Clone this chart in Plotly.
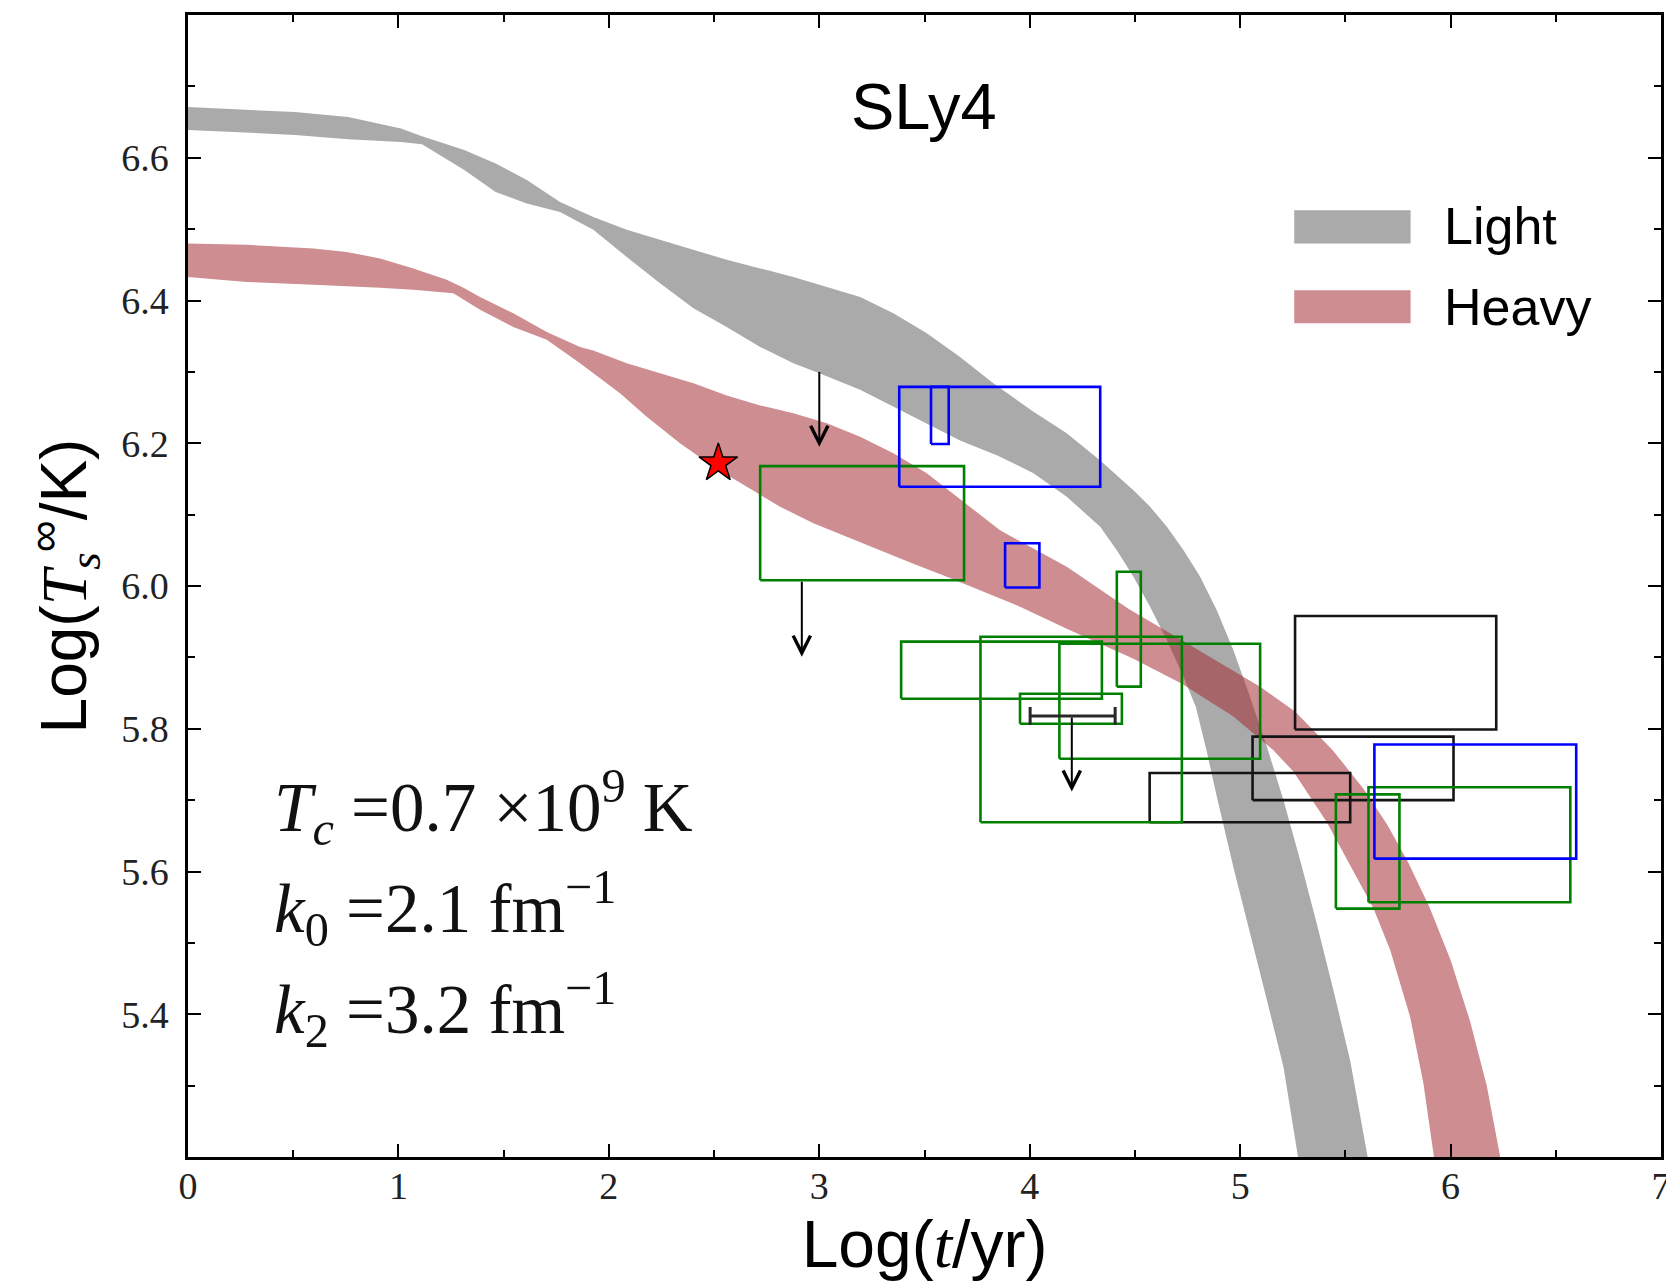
import plotly.graph_objects as go

# ---------------- data ----------------
light_upper_x = [0.0, 0.509, 0.761, 1.012, 1.112, 1.313, 1.462, 1.610, 1.768, 1.926, 2.085, 2.243, 2.402,
                 2.560, 2.719, 2.877, 3.036, 3.194, 3.352, 3.511, 3.669, 3.827, 4.018, 4.176, 4.335, 4.493,
                 4.572, 4.652, 4.731, 4.810, 4.889, 4.968, 5.047, 5.127, 5.206, 5.285, 5.364, 5.444, 5.523, 5.606]
light_upper_y = [6.671, 6.664, 6.657, 6.641, 6.630, 6.611, 6.592, 6.569, 6.538, 6.517, 6.499, 6.485, 6.471,
                 6.457, 6.445, 6.433, 6.419, 6.405, 6.382, 6.354, 6.321, 6.284, 6.244, 6.214, 6.176, 6.134,
                 6.111, 6.083, 6.050, 6.013, 5.966, 5.910, 5.845, 5.775, 5.700, 5.616, 5.527, 5.433, 5.335, 5.200]
light_lower_x = [0.0, 0.509, 0.761, 1.012, 1.112, 1.313, 1.462, 1.610, 1.768, 1.926, 2.085, 2.243, 2.402,
                 2.560, 2.719, 2.877, 3.000, 3.194, 3.352, 3.511, 3.669, 3.846, 4.018, 4.176, 4.335, 4.414,
                 4.493, 4.572, 4.652, 4.731, 4.790, 4.840, 4.889, 4.968, 5.048, 5.127, 5.206, 5.275]
light_lower_y = [6.639, 6.632, 6.626, 6.622, 6.619, 6.583, 6.552, 6.536, 6.524, 6.499, 6.461, 6.424, 6.389,
                 6.363, 6.335, 6.312, 6.298, 6.275, 6.251, 6.228, 6.204, 6.183, 6.158, 6.125, 6.083, 6.050,
                 6.013, 5.971, 5.924, 5.873, 5.830, 5.770, 5.705, 5.606, 5.513, 5.420, 5.326, 5.200]

heavy_upper_x = [0.0, 0.279, 0.596, 0.754, 0.913, 1.071, 1.229, 1.309, 1.388, 1.546, 1.705, 1.863, 1.926,
                 2.085, 2.243, 2.402, 2.560, 2.719, 2.877, 3.036, 3.194, 3.352, 3.511, 3.680, 3.859, 4.176,
                 4.469, 4.723, 5.095, 5.261, 5.440, 5.586, 5.700, 5.800, 5.900, 6.000, 6.093, 6.172, 6.236]
heavy_upper_y = [6.480, 6.478, 6.473, 6.468, 6.459, 6.445, 6.429, 6.418, 6.405, 6.382, 6.356, 6.335, 6.330,
                 6.312, 6.298, 6.284, 6.267, 6.253, 6.242, 6.228, 6.209, 6.186, 6.158, 6.119, 6.078, 6.027,
                 5.968, 5.924, 5.859, 5.824, 5.770, 5.716, 5.665, 5.612, 5.550, 5.476, 5.390, 5.300, 5.200]
heavy_lower_x = [0.0, 0.279, 0.596, 0.913, 1.071, 1.261, 1.388, 1.546, 1.705, 1.863, 2.053, 2.180, 2.338,
                 2.497, 2.655, 2.814, 2.972, 3.131, 3.289, 3.447, 3.606, 3.764, 3.954, 4.176, 4.493, 4.723,
                 4.968, 5.158, 5.253, 5.412, 5.634, 5.713, 5.808, 5.871, 5.921]
heavy_lower_y = [6.433, 6.426, 6.422, 6.418, 6.415, 6.410, 6.387, 6.363, 6.345, 6.312, 6.270, 6.237, 6.200,
                 6.167, 6.139, 6.111, 6.088, 6.069, 6.050, 6.031, 6.013, 5.994, 5.971, 5.940, 5.898, 5.863,
                 5.817, 5.770, 5.740, 5.669, 5.548, 5.490, 5.396, 5.303, 5.200]

# observation boxes: [x0, x1, y0, y1]
blue_boxes = [[3.380, 4.335, 6.139, 6.279], [3.531, 3.615, 6.199, 6.279],
              [3.883, 4.046, 5.998, 6.060], [5.638, 6.597, 5.618, 5.778]]
green_boxes = [[2.719, 3.688, 6.008, 6.168], [4.414, 4.528, 5.859, 6.020],
               [3.389, 4.343, 5.842, 5.922], [3.766, 4.723, 5.669, 5.929],
               [4.141, 5.095, 5.758, 5.919], [3.954, 4.438, 5.807, 5.849],
               [5.455, 5.757, 5.548, 5.708], [5.610, 6.569, 5.557, 5.718]]
black_boxes = [[5.261, 6.217, 5.799, 5.958], [5.059, 6.014, 5.700, 5.789],
               [4.570, 5.523, 5.669, 5.738]]

# upper limits: [x, y_from, y_to]
upper_limits = [[3.000, 6.302, 6.195], [2.917, 6.008, 5.901], [4.200, 5.818, 5.712]]
# horizontal range bar: [x_center, half_width, y]
range_bar = [4.204, 0.202, 5.818]
# star
star_x, star_y = [2.52], [6.172]

x_ticks = [0, 1, 2, 3, 4, 5, 6, 7]
y_ticks = [5.4, 5.6, 5.8, 6.0, 6.2, 6.4, 6.6]
y_ticktext = ["5.4", "5.6", "5.8", "6.0", "6.2", "6.4", "6.6"]

LIGHT = "rgb(170,170,170)"
HEAVY = "rgba(160,40,48,0.53)"

fig = go.Figure()


def band(ux, uy, lx, ly, color, name):
    xs = list(ux) + list(reversed(lx))
    ys = list(uy) + list(reversed(ly))
    xs.append(ux[0]); ys.append(uy[0])
    fig.add_trace(go.Scatter(x=xs, y=ys, mode="lines", fill="toself", fillcolor=color,
                             line=dict(width=0, color=color),
                             name=name, showlegend=False, hoverinfo="skip"))


band(light_upper_x, light_upper_y, light_lower_x, light_lower_y, LIGHT, "Light")
band(heavy_upper_x, heavy_upper_y, heavy_lower_x, heavy_lower_y, HEAVY, "Heavy")


def boxes(blist, color):
    xs, ys = [], []
    for x0, x1, y0, y1 in blist:
        xs += [x0, x1, x1, x0, x0, None]
        ys += [y0, y0, y1, y1, y0, None]
    fig.add_trace(go.Scatter(x=xs, y=ys, mode="lines", line=dict(color=color, width=2.6),
                             showlegend=False, hoverinfo="skip"))


boxes(black_boxes, "rgb(20,20,20)")
boxes(green_boxes, "rgb(0,128,0)")
boxes(blue_boxes, "rgb(0,0,255)")

# horizontal range bar with caps
fig.add_trace(go.Scatter(x=[range_bar[0]], y=[range_bar[2]], mode="markers",
                         marker=dict(size=1, color="rgba(0,0,0,0)"),
                         error_x=dict(type="data", array=[range_bar[1]], color="rgb(40,40,40)",
                                      thickness=3, width=9),
                         showlegend=False, hoverinfo="skip"))

# star
fig.add_trace(go.Scatter(x=star_x, y=star_y, mode="markers",
                         marker=dict(symbol="star", size=29, color="red",
                                     line=dict(color="black", width=1.5)),
                         showlegend=False, hoverinfo="skip"))

annotations = []
for x, y0, y1 in upper_limits:
    annotations.append(dict(x=x, y=y1, ax=x, ay=y0, xref="x", yref="y", axref="x", ayref="y",
                            text="", showarrow=True, arrowhead=5, arrowsize=1.7, arrowwidth=2,
                            arrowcolor="black", standoff=0, startstandoff=0))

annotations.append(dict(x=3.498, y=6.672, xref="x", yref="y", text="SLy4", showarrow=False,
                        font=dict(family="Liberation Sans", size=65, color="black")))

serif = "Liberation Serif"
param_lines = ["<i>T</i><sub><i>c</i></sub> =0.7 ×10<sup>9</sup> K",
               "<i>k</i><sub>0</sub> =2.1 fm<sup>−1</sup>",
               "<i>k</i><sub>2</sub> =3.2 fm<sup>−1</sup>"]
param_y = [5.690, 5.549, 5.407]
for t, yy in zip(param_lines, param_y):
    annotations.append(dict(x=0.40, y=yy, xref="x", yref="y", text=t, showarrow=False,
                            xanchor="left", yanchor="middle",
                            font=dict(family=serif, size=69, color="#111")))

# legend (patches + labels)
shapes = [
    dict(type="rect", xref="paper", yref="paper", x0=0.751, x1=0.830, y0=0.800, y1=0.829,
         fillcolor=LIGHT, line=dict(width=0)),
    dict(type="rect", xref="paper", yref="paper", x0=0.751, x1=0.830, y0=0.730, y1=0.759,
         fillcolor=HEAVY, line=dict(width=0)),
]
annotations.append(dict(x=0.851, y=0.815, xref="paper", yref="paper", text="Light", showarrow=False,
                        xanchor="left", yanchor="middle",
                        font=dict(family="Liberation Sans", size=52, color="black")))
annotations.append(dict(x=0.851, y=0.744, xref="paper", yref="paper", text="Heavy", showarrow=False,
                        xanchor="left", yanchor="middle",
                        font=dict(family="Liberation Sans", size=52, color="black")))

axis_common = dict(showline=True, linewidth=2.5, linecolor="black", mirror="allticks",
                   ticks="inside", ticklen=13, tickwidth=2, tickcolor="black",
                   showgrid=False, zeroline=False, automargin=False,
                   tickfont=dict(family=serif, size=38, color="#222"))

fig.update_xaxes(range=[0, 7], tickvals=x_ticks, ticktext=[str(v) for v in x_ticks],
                 ticklabelstandoff=-6, ticklabeloverflow="allow",
                 minor=dict(tickmode="linear", tick0=0, dtick=0.5, ticks="inside", ticklen=7,
                            tickwidth=1.5, tickcolor="black"),
                 title=dict(text="Log(<i><span style=\"font-family:'Liberation Serif'\">t</span></i>/yr)",
                            standoff=2,
                            font=dict(family="Liberation Sans", size=66, color="black")),
                 **axis_common)
fig.update_yaxes(range=[5.2, 6.8], tickvals=y_ticks, ticktext=y_ticktext, ticklabelstandoff=9,
                 minor=dict(tickmode="linear", tick0=5.2, dtick=0.1, ticks="inside", ticklen=7,
                            tickwidth=1.5, tickcolor="black"),
                 title=dict(text="Log(<i><span style=\"font-family:'Liberation Serif'\">T</span></i>"
                                 "<sub><i><span style=\"font-family:'Liberation Serif'\">s</span></i></sub>"
                                 "<sup>∞</sup>/K)",
                            standoff=14,
                            font=dict(family="Liberation Sans", size=64, color="black")),
                 **axis_common)

fig.update_layout(width=1666, height=1283, plot_bgcolor="white", paper_bgcolor="white",
                  margin=dict(l=188, r=5, t=15, b=126), showlegend=False,
                  annotations=annotations, shapes=shapes)

fig.write_html("out.html", config={"displayModeBar": False},
               post_script="document.body.style.margin='0px';")
